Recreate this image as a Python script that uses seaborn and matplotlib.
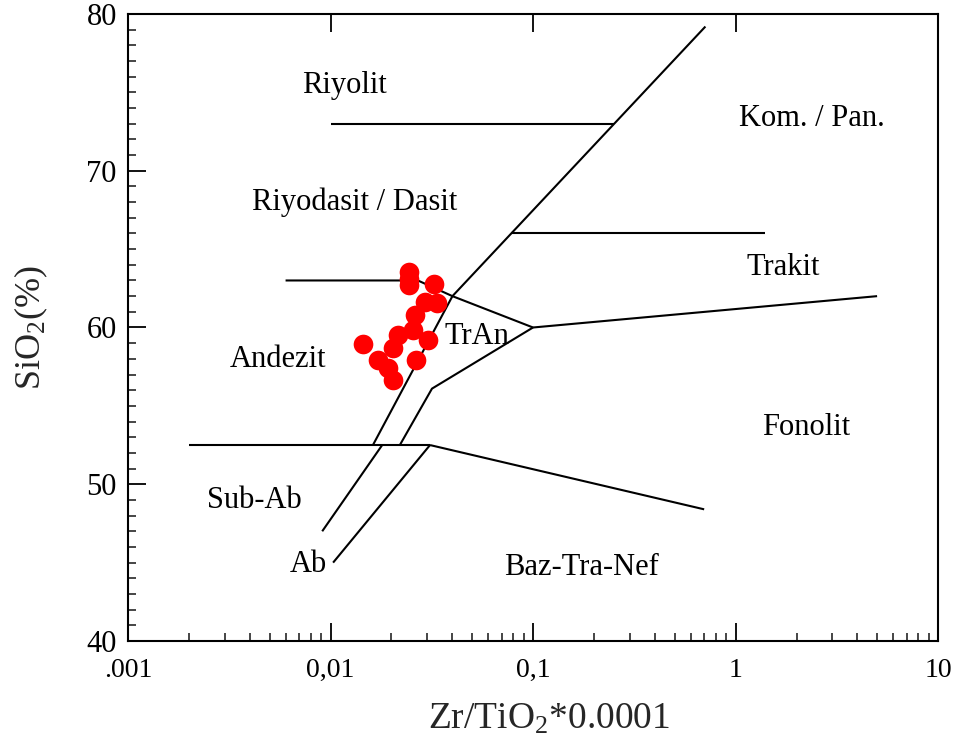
import matplotlib
matplotlib.use("Agg")
import matplotlib.pyplot as plt
import seaborn as sns
import pandas as pd
from matplotlib.ticker import FixedLocator, FixedFormatter, MultipleLocator, LogLocator, NullFormatter

# ---- data ----
zr_tio2 = [0.0245, 0.0245, 0.0245, 0.0326, 0.0293, 0.0334, 0.0262, 0.0256, 0.0216,
           0.0302, 0.0145, 0.0204, 0.0172, 0.0193, 0.0265, 0.0204]
sio2 = [63.55, 63.1, 62.7, 62.75, 61.65, 61.55, 60.8, 59.85, 59.5,
        59.2, 58.95, 58.7, 57.9, 57.4, 57.95, 56.65]

# ---- field boundaries of the diagram ----
main_x = [0.04, 0.71]
main_y = [62.0, 79.2]
riyolit_x = [0.01, 0.252]
riyolit_y = [73.0, 73.0]
trakit_x = [0.078, 1.4]
trakit_y = [66.0, 66.0]
andezit_top_x = [0.006, 0.027, 0.04, 0.1]
andezit_top_y = [63.0, 63.0, 62.0, 60.0]
tran_right_x = [0.1, 5.0]
tran_right_y = [60.0, 62.0]
andezit_tran_x = [0.04, 0.0162]
andezit_tran_y = [62.0, 52.5]
tran_low_x = [0.1, 0.0317, 0.022]
tran_low_y = [60.0, 56.1, 52.5]
sub_x = [0.002, 0.031]
sub_y = [52.5, 52.5]
subab_ab_x = [0.018, 0.0091]
subab_ab_y = [52.5, 47.0]
ab_baz_x = [0.031, 0.0103]
ab_baz_y = [52.5, 45.0]
baz_fon_x = [0.031, 0.7]
baz_fon_y = [52.5, 48.4]

field_names = ["Riyolit", "Riyodasit / Dasit", "Kom. / Pan.", "Trakit", "TrAn",
               "Andezit", "Fonolit", "Sub-Ab", "Ab", "Baz-Tra-Nef"]
field_x = [0.0117, 0.0132, 2.39, 1.72, 0.053, 0.0055, 2.23, 0.0042, 0.0078, 0.1725]
field_y = [75.45, 68.0, 73.35, 63.8, 59.45, 57.95, 53.65, 48.95, 44.85, 44.7]

x_ticks = [0.001, 0.01, 0.1, 1, 10]
x_ticklabels = [".001", "0,01", "0,1", "1", "10"]
y_ticks = [40, 50, 60, 70, 80]

# ---- style ----
sns.set_theme(style="white")
plt.rcParams["font.family"] = ["Liberation Serif", "DejaVu Serif"]
plt.rcParams["mathtext.fontset"] = "custom"
plt.rcParams["mathtext.rm"] = "Liberation Serif"
plt.rcParams["mathtext.it"] = "Liberation Serif:italic"

fig = plt.figure(figsize=(9.63, 7.52), dpi=100)
ax = fig.add_axes([0.1329, 0.1476, 0.9741 - 0.1329, 0.9814 - 0.1476])

lw = 1.5
for xs, ys in [(main_x, main_y), (riyolit_x, riyolit_y), (trakit_x, trakit_y),
               (andezit_top_x, andezit_top_y), (tran_right_x, tran_right_y),
               (andezit_tran_x, andezit_tran_y), (tran_low_x, tran_low_y),
               (sub_x, sub_y), (subab_ab_x, subab_ab_y), (ab_baz_x, ab_baz_y),
               (baz_fon_x, baz_fon_y)]:
    ax.plot(xs, ys, color="black", lw=lw, solid_capstyle="butt", zorder=2)

df = pd.DataFrame({"x": zr_tio2, "y": sio2})
sns.scatterplot(data=df, x="x", y="y", ax=ax, color="#ff0000", s=200,
                edgecolor="#ff0000", linewidth=0, zorder=3, legend=False)

for name, fx, fy in zip(field_names, field_x, field_y):
    ax.text(fx, fy, name, ha="center", va="center", fontsize=22, color="black")

ax.set_xscale("log")
ax.set_xlim(0.001, 10)
ax.set_ylim(40, 80)

ax.xaxis.set_major_locator(FixedLocator(x_ticks))
ax.xaxis.set_major_formatter(FixedFormatter(x_ticklabels))
ax.xaxis.set_minor_locator(LogLocator(base=10, subs=range(2, 10)))
ax.xaxis.set_minor_formatter(NullFormatter())
ax.yaxis.set_major_locator(FixedLocator(y_ticks))
ax.yaxis.set_minor_locator(MultipleLocator(1))

ax.tick_params(which="major", direction="in", length=13, width=1.3,
               top=True, right=False, left=True, bottom=True, colors="black")
ax.tick_params(axis="x", which="major", labelsize=20, pad=12)
ax.tick_params(axis="y", which="major", labelsize=22, pad=8)
ax.tick_params(which="minor", direction="in", length=6, width=1.2,
               top=False, right=False, left=True, bottom=True)

for sp in ax.spines.values():
    sp.set_linewidth(1.5)
    sp.set_color("black")

ax.set_xlabel("Zr/TiO$_2$*0.0001", fontsize=27, labelpad=14)
ax.xaxis.label.set_x(0.52)
ax.set_ylabel("SiO$_2$(%)", fontsize=26, labelpad=26)

fig.savefig("out.png", dpi=100, facecolor="white")
